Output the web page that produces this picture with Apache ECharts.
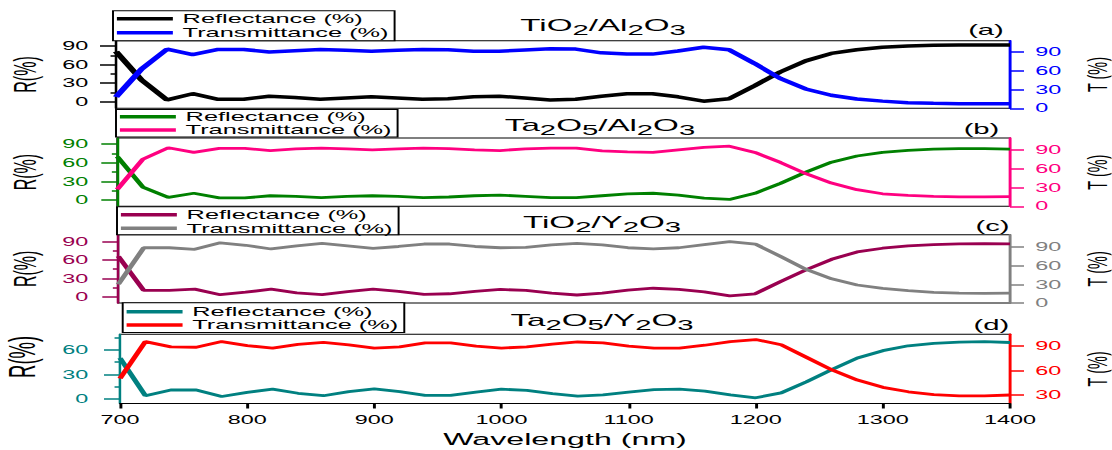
<!DOCTYPE html>
<html><head><meta charset="utf-8">
<script src="https://cdn.jsdelivr.net/npm/echarts@6/dist/echarts.min.js"></script>
<style>
html,body{margin:0;padding:0;overflow:hidden;background:#fff;width:1112px;height:450px}
#wrap{position:absolute;left:0;top:0;height:450px;transform-origin:0 0;}
</style></head><body><div id="wrap"></div>
<script>
// ---------------- data ----------------
const wavelength = [700,720,740,760,780,800,820,840,860,880,900,920,940,960,980,1000,1020,1040,1060,1080,1100,1120,1140,1160,1180,1200,1220,1240,1260,1280,1300,1320,1340,1360,1380,1400];
const aR = [81,35,3,13,4,4, 9,7,4,6,8, 6,4,5,8,9, 6,3,4,9,13, 13,8,1,5,26, 48,66,78,84,88, 90,91,91.5,91.5,91.5];
const aT = [18,63,95,86,94.5,94.5, 90.5,92.5,94.5,93,91.5, 93,94.5,94,91.5,91.5, 93.5,95.5,95,89,87, 87,92,98,94,72, 48,31,21,15,11.5, 9,8,7.5,7.5,7.5];
const bR = [70,21,4.5,11,3.5,3.5, 7,6,4,6,7, 6,4,5,7,8, 6,4,4,7,10, 11,8,3,1,11, 27,45,61,71,77, 80,82,83,83,82];
const bT = [27,75,93.5,86,92.5,92.5, 89,91.5,93,91.5,90, 91.5,93,92,90,89, 91.5,93,93,88.5,87, 86,90,94,96,86, 70,52,37,26.5,20, 17.5,16,15,15,15.5];
const cR = [66,10.5,10.5,12.5,3.5,7.5, 12.5,6.5,3.5,8.5,12.5, 9,4,5,9,12, 10.5,6,3,6,11, 14,12,8,1.5,5, 25,44,61,73,79, 83,85,86,86.5,86];
const cT = [30,89,89,86.5,97,93, 87,92,96,92,88, 91,95,95,91,89, 89.5,93.5,96,93.5,89, 87,89,94,99,95, 75,54,39,29,23.5, 20,17,16,15.5,16];
const dR = [50,4,11,11,3,8, 12,7,4,9,12.5, 9,4.5,4.5,8.5,12, 10.5,6.5,3.5,5,8.5, 11.5,12,9.5,5,1.5, 7.5,21,36,50,59, 65,68,69.5,70,69];
const dT = [50,95.5,89,88.5,95.5,90.5, 87.5,92,94.5,91.5,87.5, 89,94,94,90,87.5, 89,92.5,95,94,90, 87.5,87.5,91,95.5,98, 91.5,76,60.5,48,39, 33.5,30,28.5,28.5,29.5];

const xTicks = [700,800,900,1000,1100,1200,1300,1400];
const rTicksABC = [0,30,60,90];
const rTicksD = [0,30,60];
const tTicksABC = [0,30,60,90];
const tTicksD = [30,60,90];
const rMinor = [15,45,75];

const legendText = ['Reflectance (%)','Transmittance (%)'];
const titleRich = [
  '{m|TiO}{s|2}{m|/Al}{s|2}{m|O}{s|3}',
  '{m|Ta}{s|2}{m|O}{s|5}{m|/Al}{s|2}{m|O}{s|3}',
  '{m|TiO}{s|2}{m|/Y}{s|2}{m|O}{s|3}',
  '{m|Ta}{s|2}{m|O}{s|5}{m|/Y}{s|2}{m|O}{s|3}'
];
const tags = ['(a)','(b)','(c)','(d)'];
const rName = 'R(%)', tName = 'T (%)', xName = 'Wavelength (nm)';
const seriesR = [aR,bR,cR,dR], seriesT = [aT,bT,cT,dT];
const rTicks = [rTicksABC,rTicksABC,rTicksABC,rTicksD];
const tTicks = [tTicksABC,tTicksABC,tTicksABC,tTicksD];

// ---------------- layout / style ----------------
const S = 1.95;                 // horizontal stretch of the original figure
const W = 1112 / S;
const X = px => px / S;
const FF = '"Liberation Sans", Arial, Helvetica, sans-serif';
const P = [
  {gl:116,   gTop:40.7,  gBot:108.3, rMin:-10.5, rMax:98.5, tMin:0,  tMax:108.5, cR:'#000000', cT:'#0000ff', lw:3.5,
   lgL:113,   lgT:10.7,  lh:14,   pT:1,   pB:1,   tX:603, tTop:16.2,  tagX:986,   tagY:31.5,  rFs:16,  rGap:38,  rPad:0,  tGap:35},
  {gl:117.3, gTop:138,   gBot:206.3, rMin:-10,   rMax:100,  tMin:0,  tMax:109,   cR:'#008000', cT:'#ff0080', lw:2.8,
   lgL:116,   lgT:109.5, lh:13.3, pT:0.5, pB:0.5, tX:600, tTop:116.2, tagX:981.5, tagY:130,   rFs:16,  rGap:37.9, rPad:0, tGap:35},
  {gl:118.3, gTop:234.7, gBot:303,   rMin:-10,   rMax:101,  tMin:0,  tMax:110,   cR:'#990050', cT:'#808080', lw:2.8,
   lgL:117,   lgT:206.7, lh:13.3, pT:1.5, pB:0,   tX:602, tTop:213.5, tagX:992.5, tagY:227.4, rFs:16,  rGap:37.6, rPad:0, tGap:35},
  {gl:120,   gTop:334.3, gBot:403.5, rMin:-5.5,  rMax:79,   tMin:19, tMax:104.5, cR:'#008080', cT:'#ff0000', lw:2.8,
   lgL:122.7, lgT:302.7, lh:13.3, pT:2.3, pB:1,   tX:602, tTop:311.5, tagX:991.3, tagY:326.3, rFs:18.5, rGap:34.2, rPad:24, tGap:35}
];
const RIGHT = 1010;

const wrap = document.getElementById('wrap');
wrap.style.width = W + 'px';
wrap.style.transform = 'scaleX(' + S + ')';

const plain = v => String(v);
const grid = [], xAxis = [], yAxis = [], series = [], legend = [], title = [];
const ids = ['a','b','c','d'];
const labelMap = {};
P.forEach((p, i) => {
  grid.push({left: X(p.gl), width: X(RIGHT - p.gl), top: p.gTop, height: p.gBot - p.gTop,
             containLabel: false, outerBoundsMode: 'none',
             show: true, borderColor: '#000', borderWidth: 1, backgroundColor: 'transparent'});
  const last = i === 3;
  xAxis.push({
    type: 'value', gridIndex: i, min: 700, max: 1400, interval: 100,
    axisLine: {show: last, onZero: false, lineStyle: {color: '#000', width: 1}},
    axisTick: {show: last, length: 5, customValues: xTicks, lineStyle: {color: '#000', width: 1.5}},
    axisLabel: {show: last, customValues: xTicks, formatter: plain, fontSize: 12, color: '#000', margin: 10, fontFamily: FF},
    splitLine: {show: false},
    name: last ? xName : '', nameLocation: 'middle', nameGap: 27,
    nameTextStyle: {fontSize: 16.5, color: '#000', fontFamily: FF}
  });
  // left R axis
  yAxis.push({
    type: 'value', gridIndex: i, position: 'left', min: p.rMin, max: p.rMax,
    axisLine: {show: true, onZero: false, lineStyle: {color: p.cR, width: 1.3}},
    axisTick: {show: true, length: 8.2, customValues: rTicks[i], lineStyle: {color: p.cR, width: 1.5}},
    axisLabel: {show: true, customValues: rTicks[i], formatter: plain, color: p.cR, fontSize: 12, margin: X(p.gl - 88.3), fontFamily: FF},
    splitLine: {show: false},
    name: rName, nameLocation: 'middle', nameGap: p.rGap,
    nameTextStyle: {color: '#000', fontSize: p.rFs, fontFamily: FF, padding: [0, 0, 0, p.rPad]}
  });
  // right T axis
  yAxis.push({
    type: 'value', gridIndex: i, position: 'right', min: p.tMin, max: p.tMax,
    axisLine: {show: true, onZero: false, lineStyle: {color: p.cT, width: 1.5}},
    axisTick: {show: true, length: 7.2, customValues: tTicks[i], lineStyle: {color: p.cT, width: 1.5}},
    axisLabel: {show: true, customValues: tTicks[i], formatter: plain, color: p.cT, fontSize: 12, margin: 13, fontFamily: FF},
    splitLine: {show: false},
    name: tName, nameLocation: 'middle', nameGap: p.tGap,
    nameTextStyle: {color: '#000', fontSize: 14.5, fontFamily: FF}
  });
  // minor ticks on left axis
  yAxis.push({
    type: 'value', gridIndex: i, position: 'left', min: p.rMin, max: p.rMax,
    axisLine: {show: false, onZero: false},
    axisTick: {show: true, length: 2.8, customValues: rMinor, lineStyle: {color: p.cR, width: 1.5}},
    axisLabel: {show: false},
    splitLine: {show: false}
  });
  const idR = ids[i] + 'R', idT = ids[i] + 'T';
  labelMap[idR] = legendText[0]; labelMap[idT] = legendText[1];
  series.push({
    type: 'line', name: idR, xAxisIndex: i, yAxisIndex: 3 * i,
    data: wavelength.map((w, k) => [w, seriesR[i][k]]),
    color: p.cR, lineStyle: {width: p.lw, color: p.cR}, showSymbol: false, symbol: 'none'
  });
  series.push({
    type: 'line', name: idT, xAxisIndex: i, yAxisIndex: 3 * i + 1,
    data: wavelength.map((w, k) => [w, seriesT[i][k]]),
    color: p.cT, lineStyle: {width: p.lw, color: p.cT}, showSymbol: false, symbol: 'none'
  });
  legend.push({
    orient: 'vertical', left: X(p.lgL), top: p.lgT, padding: [p.pT, 3, p.pB, 2],
    itemGap: 0, itemWidth: 28.7, itemHeight: 3.5, icon: 'rect',
    borderColor: '#000', borderWidth: 1, backgroundColor: '#fff', selectedMode: false,
    data: [idR, idT], formatter: n => labelMap[n],
    textStyle: {fontSize: 13, color: '#000', fontFamily: FF, lineHeight: p.lh}
  });
  title.push({
    text: titleRich[i], left: X(p.tX), top: p.tTop, textAlign: 'center', padding: 0,
    textStyle: {fontWeight: 'normal', color: '#000', fontFamily: FF, rich: {
      m: {fontSize: 17, lineHeight: 17, verticalAlign: 'top', color: '#000', fontFamily: FF, fontWeight: 'normal'},
      s: {fontSize: 15, lineHeight: 15, verticalAlign: 'top', padding: [6.25, 0, 0, 0], color: '#000', fontFamily: FF, fontWeight: 'normal'}
    }}
  });
  title.push({
    text: tags[i], left: X(p.tagX), top: p.tagY - 8.8, textAlign: 'center', padding: 0,
    textStyle: {fontSize: 15, lineHeight: 15, fontWeight: 'normal', color: '#000', fontFamily: FF}
  });
});

const chart = echarts.init(wrap, null, {renderer: 'svg', width: W, height: 450});
chart.setOption({
  animation: false,
  backgroundColor: '#fff',
  title, legend, grid, xAxis, yAxis, series
});
</script>
</body></html>
